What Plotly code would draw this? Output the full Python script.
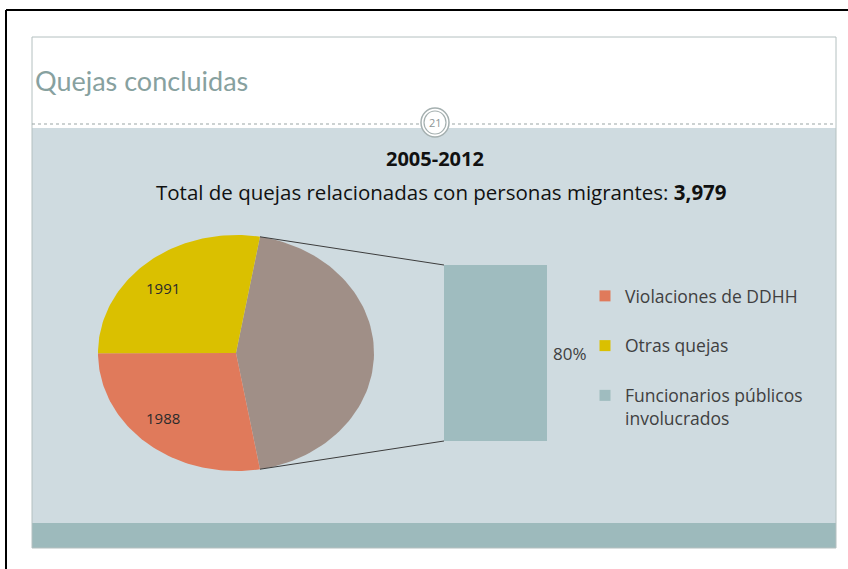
import numpy as np
import plotly.graph_objects as go

# --- data ---
slice_names = ["Funcionarios públicos involucrados", "Violaciones de DDHH", "Otras quejas"]
slice_values = [3183, 1988, 1991]          # grey slice = 80% of 3,979 (split into the bar)
slice_text = ["", "1988", "1991"]
slice_colors = ["#a08f87", "#e07a5b", "#dac000"]

bar_label = ["Funcionarios públicos involucrados"]
bar_value = [80]
bar_color = "#9fbcbf"

legend_names = ["Violaciones de DDHH", "Otras quejas", "Funcionarios públicos<br>involucrados"]
legend_colors = ["#e07a5b", "#dac000", "#9fbcbf"]

W, H = 848, 569
FONT = "Open Sans"
TXT = "#404040"

# pie geometry (pixel space, slide is a bit stretched so the pie is an ellipse)
cx, cy, rx, ry = 236, 353, 138, 118

fig = go.Figure()

# build slices: grey slice centred at 3 o'clock, the rest clockwise
total = sum(slice_values)
spans = [v / total * 360 for v in slice_values]
start = 90 - spans[0] / 2
edges = []
for i, (name, span) in enumerate(zip(slice_names, spans)):
    th = np.radians(np.linspace(start, start + span, 80))
    xs = np.concatenate([[cx], cx + rx * np.sin(th), [cx]])
    ys = np.concatenate([[cy], cy - ry * np.cos(th), [cy]])
    fig.add_trace(go.Scatter(x=xs, y=ys, fill="toself", fillcolor=slice_colors[i], mode="lines",
                             line=dict(width=0, color=slice_colors[i]), hoverinfo="skip", showlegend=False))
    mid = np.radians(start + span / 2)
    if slice_text[i]:
        fig.add_annotation(x=cx + 0.78 * rx * np.sin(mid) - 4, y=cy - 0.72 * ry * np.cos(mid), xref="x", yref="y",
                           text=slice_text[i], showarrow=False, font=dict(family=FONT, size=15, color="#2b2b2b"))
    edges.append((start, start + span))
    start += span

# bar of the grey slice
fig.add_trace(go.Bar(x=[0], y=bar_value, width=1, marker=dict(color=bar_color, line=dict(width=0)),
                     xaxis="x2", yaxis="y2", showlegend=False, hoverinfo="skip"))
fig.add_annotation(x=1, y=bar_value[0] / 2, xref="x2 domain", yref="y2", xanchor="left", xshift=4,
                   text=f"{bar_value[0]}%", showarrow=False, font=dict(family=FONT, size=17, color=TXT))

# legend-only entries
for i, (n, c) in enumerate(zip(legend_names, legend_colors)):
    fig.add_trace(go.Scatter(x=[None], y=[None], mode="markers", name=n, legendgroup=str(i),
                             marker=dict(symbol="square", size=11, color=c)))

# connector lines from grey slice edges to the bar corners
bx0, bx1, by0, by1 = 444, 547, 265, 441
a0, a1 = np.radians(edges[0][0]), np.radians(edges[0][1])
fig.add_shape(type="line", x0=cx + rx * np.sin(a0), y0=cy - ry * np.cos(a0), x1=bx0, y1=by0,
              xref="x", yref="y", line=dict(color="#3c3c3c", width=1))
fig.add_shape(type="line", x0=cx + rx * np.sin(a1), y0=cy - ry * np.cos(a1), x1=bx0, y1=by1,
              xref="x", yref="y", line=dict(color="#3c3c3c", width=1))

# slide decoration
deco = [
    dict(type="rect", x0=32, y0=37, x1=836, y1=128, fillcolor="white", line=dict(width=0)),
    dict(type="rect", x0=32, y0=128, x1=836, y1=523, fillcolor="#cfdbe0", line=dict(width=0)),
    dict(type="rect", x0=32, y0=523, x1=836, y1=548, fillcolor="#9dbabc", line=dict(width=0)),
    dict(type="rect", x0=32, y0=37, x1=836, y1=548, line=dict(color="#b4c0c0", width=1)),
    dict(type="line", x0=32, y0=124, x1=836, y1=124, line=dict(color="#9aa5a5", width=1, dash="dot")),
    dict(type="circle", x0=421, y0=108, x1=449, y1=137, fillcolor="white", line=dict(color="#a5b0b0", width=1.5)),
    dict(type="circle", x0=424, y0=111, x1=446, y1=134, fillcolor="white", line=dict(color="#a5b0b0", width=1.2)),
    dict(type="line", x0=6, y0=10, x1=848, y1=10, line=dict(color="black", width=2)),
    dict(type="line", x0=6, y0=10, x1=6, y1=569, line=dict(color="black", width=2)),
]
for s in deco:
    fig.add_shape(xref="x", yref="y", layer="below", **s)

fig.add_annotation(x=33, y=80, xref="x", yref="y", xanchor="left", text="Quejas concluidas", showarrow=False,
                   font=dict(family="Lato", size=27, color="#87a19f"))
fig.add_annotation(x=435, y=122, xref="x", yref="y", text="21", showarrow=False,
                   font=dict(family=FONT, size=11, color="#8c9696"))
fig.add_annotation(x=435, y=158, xref="x", yref="y", text="<b>2005-2012</b>", showarrow=False,
                   font=dict(family=FONT, size=20, color="#111111"))
fig.add_annotation(x=441, y=192, xref="x", yref="y",
                   text="Total de quejas relacionadas con personas migrantes: <b>3,979</b>", showarrow=False,
                   font=dict(family=FONT, size=20.5, color="#111111"))

fig.update_layout(
    width=W, height=H, margin=dict(l=0, r=0, t=0, b=0),
    paper_bgcolor="white", plot_bgcolor="rgba(0,0,0,0)",
    xaxis=dict(range=[0, W], domain=[0, 1], visible=False, fixedrange=True),
    yaxis=dict(range=[H, 0], domain=[0, 1], visible=False, fixedrange=True),
    xaxis2=dict(domain=[bx0 / W, bx1 / W], range=[-0.5, 0.5], visible=False, anchor="y2"),
    yaxis2=dict(domain=[1 - by1 / H, 1 - by0 / H], range=[0, bar_value[0]], visible=False, anchor="x2"),
    legend=dict(x=(625 - 40) / W, y=1 - 278 / H, xanchor="left", yanchor="top", bgcolor="rgba(0,0,0,0)",
                font=dict(family=FONT, size=17.5, color=TXT), tracegroupgap=24, valign="top"),
    showlegend=True,
)

# page body has a default 8px margin; drop it so the figure sits at the window origin
fig.write_html("out.html", config={"displayModeBar": False},
               post_script="document.body.style.margin='0';")
